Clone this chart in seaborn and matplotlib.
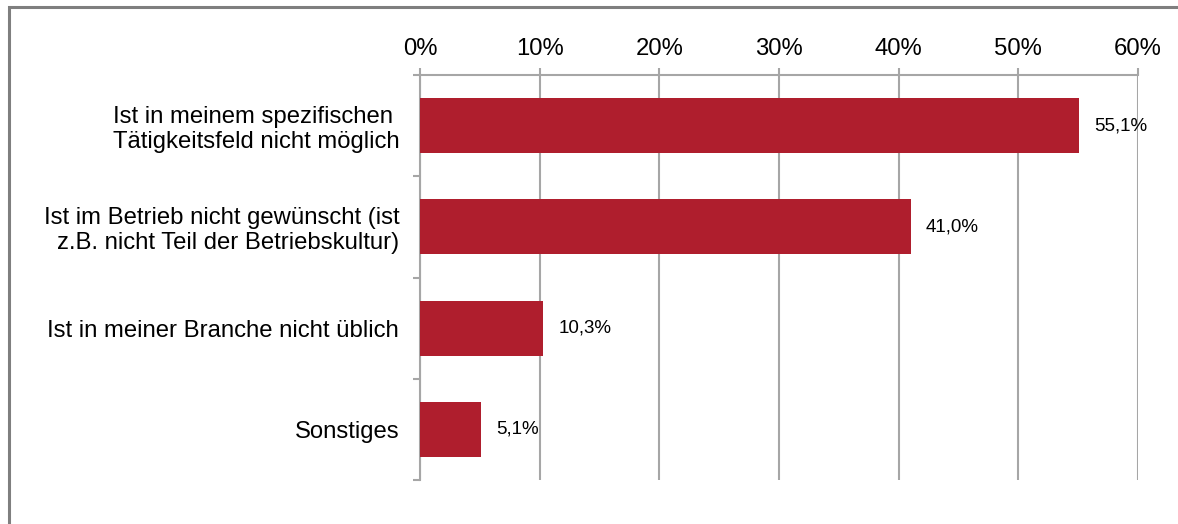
import matplotlib
matplotlib.use("Agg")
import matplotlib.pyplot as plt
from matplotlib.ticker import FixedLocator, FuncFormatter
from matplotlib.patches import Rectangle
import seaborn as sns
import pandas as pd

categories = [
    "Ist in meinem spezifischen \nTätigkeitsfeld nicht möglich",
    "Ist im Betrieb nicht gewünscht (ist\nz.B. nicht Teil der Betriebskultur)",
    "Ist in meiner Branche nicht üblich",
    "Sonstiges",
]
values = [55.1, 41.0, 10.3, 5.1]
value_labels = ["55,1%", "41,0%", "10,3%", "5,1%"]
x_ticks = [0, 10, 20, 30, 40, 50, 60]

sns.set_style("white")
plt.rcParams["font.family"] = ["Liberation Sans", "DejaVu Sans"]

df = pd.DataFrame({"cat": categories, "val": values})

W, H = 1178, 524
fig = plt.figure(figsize=(W / 100, H / 100), dpi=100)
ax = fig.add_axes([420 / W, 1 - 480 / H, (1138 - 420) / W, (480 - 75) / H])

bar_color = "#AF1E2D"
grid_color = "#A6A6A6"

sns.barplot(data=df, x="val", y="cat", orient="h", color=bar_color,
            width=0.545, saturation=1, ax=ax, zorder=3, linewidth=0)

ax.set_xlim(0, 60)
ax.set_ylim(3.5, -0.5)
ax.set_xlabel("")
ax.set_ylabel("")

ax.xaxis.set_major_locator(FixedLocator(x_ticks))
ax.xaxis.set_major_formatter(FuncFormatter(lambda v, p: f"{int(v)}%"))
ax.xaxis.tick_top()
ax.tick_params(axis="x", which="major", direction="out", length=5, width=1.5,
               color=grid_color, labelsize=17.2, pad=6, labelcolor="#000000")

ax.grid(axis="x", color=grid_color, linewidth=1.5, zorder=0)
ax.set_axisbelow(True)

ax.yaxis.set_minor_locator(FixedLocator([-0.5, 0.5, 1.5, 2.5, 3.5]))
ax.tick_params(axis="y", which="major", length=0, labelsize=17.2, pad=15,
               labelcolor="#000000")
ax.tick_params(axis="y", which="minor", left=True, direction="out", length=5,
               width=1.5, color=grid_color)

for s in ["right", "bottom"]:
    ax.spines[s].set_visible(False)
for s in ["top", "left"]:
    ax.spines[s].set_color(grid_color)
    ax.spines[s].set_linewidth(1.5)

for i, (v, t) in enumerate(zip(values, value_labels)):
    ax.annotate(t, xy=(v, i), xytext=(11, 0), textcoords="offset points",
                ha="left", va="center", fontsize=13.5, color="#000000")

fig.patches.append(Rectangle((9 / W, -0.2), 1.5, 1.2 - 7 / H,
                             transform=fig.transFigure, fill=False,
                             edgecolor="#7F7F7F", linewidth=2.2))

fig.canvas.draw()
for tick in ax.yaxis.get_major_ticks():
    tick.label1.set_linespacing(1.18)

fig.savefig("out.png", dpi=100)
